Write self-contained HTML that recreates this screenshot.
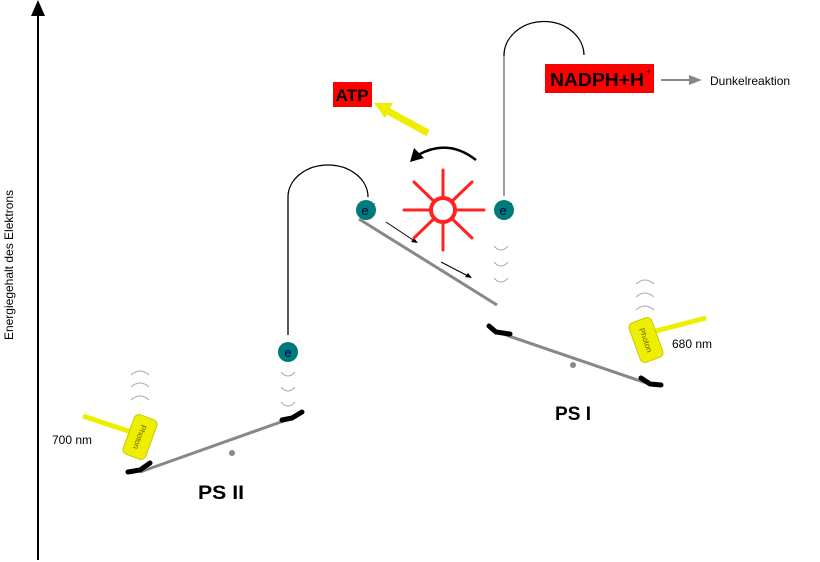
<!DOCTYPE html>
<html><head><meta charset="utf-8"><style>
html,body{margin:0;padding:0;background:#fff;}
svg{display:block;font-family:"Liberation Sans",sans-serif;}
</style></head><body>
<svg width="820" height="562" viewBox="0 0 820 562" xmlns="http://www.w3.org/2000/svg">
<line x1="38" y1="560" x2="38" y2="14" stroke="#000" stroke-width="2"/>
<polygon points="38,0 31,16 45,16" fill="#000"/>
<text x="0" y="0" transform="translate(13,265) rotate(-90)" text-anchor="middle" font-size="12">Energiegehalt des Elektrons</text>

<line x1="140" y1="472" x2="292" y2="418" stroke="#888" stroke-width="3"/>
<path d="M128,472 L140,470 L150,463" stroke="#000" stroke-width="5" fill="none" stroke-linecap="round"/>
<path d="M282,420 L292,418 L302,412" stroke="#000" stroke-width="5" fill="none" stroke-linecap="round"/>
<circle cx="232" cy="453" r="3" fill="#888"/>
<text x="198" y="499" font-size="19" font-weight="bold" textLength="46" lengthAdjust="spacingAndGlyphs">PS II</text>

<g fill="none" stroke="#aaa" stroke-width="1">
<path d="M131,375 q9,-8 18,0"/><path d="M131,387 q9,-8 18,0"/><path d="M131,400 q9,-8 18,0"/>
<path d="M281,372 q7,8 14,0"/><path d="M281,387 q7,8 14,0"/><path d="M281,402 q7,8 14,0"/>
<path d="M494,246 q7,8 14,0"/><path d="M494,262 q7,8 14,0"/><path d="M494,278 q7,8 14,0"/>
<path d="M636,284 q9,-8 18,0"/><path d="M636,297 q9,-8 18,0"/><path d="M636,310 q9,-8 18,0"/>
</g>

<line x1="83" y1="416" x2="140" y2="435" stroke="#ee0" stroke-width="5" fill="none"/>
<g transform="translate(140,437) rotate(20)">
<rect x="-12" y="-21" width="24" height="42" rx="5" fill="#ee0" stroke="#cc0"/>
<text x="0" y="0" transform="rotate(90)" text-anchor="middle" font-size="8" fill="#660" dy="3">Photon</text>
</g>
<text x="52" y="444" font-size="12">700 nm</text>

<path d="M288,335 L288,197 A40,32 0 0 1 368,197" fill="none" stroke="#000" stroke-width="1.3"/>
<circle cx="288" cy="352" r="10" fill="#007b7b"/>
<text x="288" y="357" text-anchor="middle" font-size="13" fill="#003">e</text>
<circle cx="366" cy="210" r="10" fill="#007b7b"/>
<text x="365" y="215" text-anchor="middle" font-size="13" fill="#003">e</text>
<text x="373" y="206" font-size="7">-</text>

<line x1="359" y1="219" x2="497" y2="305" stroke="#888" stroke-width="3"/>
<line x1="386" y1="222" x2="416" y2="242" stroke="#000" stroke-width="1"/>
<polygon points="418,243 411,242 414,238" fill="#000"/>
<line x1="441" y1="262" x2="470" y2="277" stroke="#000" stroke-width="1"/>
<polygon points="472,278 465,277 468,273" fill="#000"/>

<g stroke="#f22" stroke-width="3" stroke-linecap="round">
<line x1="404" y1="210" x2="484" y2="210"/>
<line x1="443" y1="170" x2="443" y2="250"/>
<line x1="414" y1="182" x2="472" y2="238"/>
<line x1="472" y1="182" x2="414" y2="238"/>
</g>
<circle cx="443" cy="210" r="12" fill="#fff" stroke="#f22" stroke-width="4"/>

<path d="M476,160 Q448,138 418,155" fill="none" stroke="#000" stroke-width="2.5"/>
<polygon points="410,162 414,148 424,158" fill="#000"/>

<line x1="428" y1="133" x2="386" y2="110" stroke="#ee0" stroke-width="7"/>
<polygon points="374,103 393,103 385,118" fill="#ee0"/>
<rect x="333" y="82" width="39" height="25" fill="#f00"/>
<text x="352" y="101" text-anchor="middle" font-size="17" font-weight="bold" textLength="33" lengthAdjust="spacingAndGlyphs">ATP</text>

<path d="M504,196 L504,56 A40,34 0 0 1 584,55" fill="none" stroke="#000" stroke-width="1.3"/>
<line x1="504" y1="196" x2="504" y2="56" stroke="#888" stroke-width="1"/>
<circle cx="504" cy="210" r="10" fill="#007b7b"/>
<text x="503" y="215" text-anchor="middle" font-size="13" fill="#003">e</text>
<text x="510" y="206" font-size="7">-</text>

<rect x="545" y="64" width="109" height="29" fill="#f00"/>
<text x="550" y="86" font-size="18" font-weight="bold" textLength="94" lengthAdjust="spacingAndGlyphs">NADPH+H</text>
<text x="646" y="74" font-size="8">+</text>
<line x1="661" y1="80" x2="690" y2="80" stroke="#888" stroke-width="2"/>
<polygon points="702,80 689,75 689,85" fill="#888"/>
<text x="710" y="85" font-size="12">Dunkelreaktion</text>

<line x1="500" y1="333" x2="655" y2="386" stroke="#888" stroke-width="3"/>
<path d="M489,326 L496,332 L510,334" stroke="#000" stroke-width="5" fill="none" stroke-linecap="round"/>
<path d="M641,378 L650,384 L661,385" stroke="#000" stroke-width="5" fill="none" stroke-linecap="round"/>
<circle cx="573" cy="365" r="3" fill="#888"/>
<text x="555" y="420" font-size="19" font-weight="bold" textLength="36" lengthAdjust="spacingAndGlyphs">PS I</text>

<line x1="648" y1="333" x2="706" y2="318" stroke="#ee0" stroke-width="5"/>
<g transform="translate(646,340) rotate(-20)">
<rect x="-12" y="-21" width="24" height="42" rx="5" fill="#ee0" stroke="#cc0"/>
<text x="0" y="0" transform="rotate(90)" text-anchor="middle" font-size="8" fill="#660" dy="3">Photon</text>
</g>
<text x="672" y="348" font-size="12">680 nm</text>
</svg>
</body></html>
